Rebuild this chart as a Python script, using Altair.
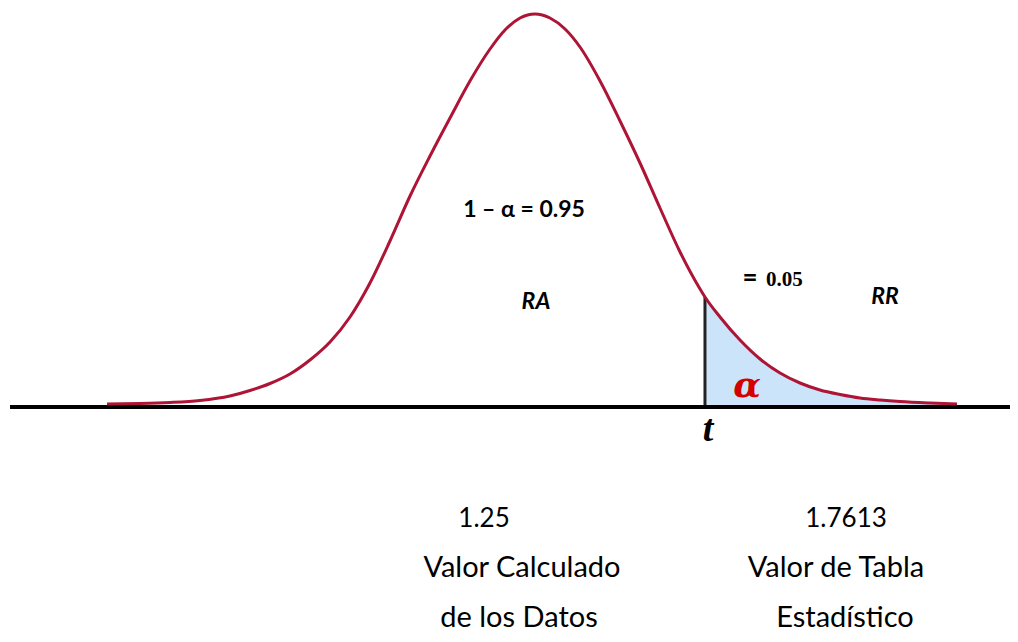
import altair as alt
import pandas as pd

# Curve (x in t units, y in density units)
curve_x = [-4.435, -4.093, -3.782, -3.472, -3.161, -2.953, -2.746, -2.539, -2.332, -2.124,
           -1.917, -1.710, -1.503, -1.295, -1.088, -0.881, -0.674, -0.466, -0.311, -0.155,
           0.0,
           0.155, 0.311, 0.466, 0.674, 0.881, 1.088, 1.295, 1.503, 1.710, 1.7613,
           1.917, 2.124, 2.332, 2.539, 2.746, 2.953, 3.161, 3.368, 3.575, 3.782, 4.093, 4.373]
curve_y = [0.003, 0.0035, 0.0045, 0.0065, 0.011, 0.0165, 0.0235, 0.033, 0.047, 0.065,
           0.090, 0.124, 0.166, 0.211, 0.251, 0.289, 0.326, 0.358, 0.377, 0.389,
           0.393,
           0.389, 0.378, 0.360, 0.326, 0.286, 0.244, 0.199, 0.155, 0.118, 0.110,
           0.090, 0.067, 0.048, 0.034, 0.024, 0.017, 0.0125, 0.009, 0.007, 0.0055, 0.004, 0.003]

t_crit = 1.7613
t_height = 0.110

X_DOMAIN = [-5.461, 4.922]
Y_DOMAIN = [-0.227, 0.399]
baseline_start = -5.44

curve = pd.DataFrame({"x": curve_x, "y": curve_y})
tail = curve[curve["x"] >= t_crit].reset_index(drop=True)

xs = alt.Scale(domain=X_DOMAIN, nice=False, zero=False)
ys = alt.Scale(domain=Y_DOMAIN, nice=False, zero=False)
X = lambda f="x": alt.X(f"{f}:Q", scale=xs, axis=None)
Y = lambda f="y": alt.Y(f"{f}:Q", scale=ys, axis=None)

area = alt.Chart(tail).mark_area(color="#CCE4FA", interpolate="monotone").encode(
    x=X(), y=Y(), y2=alt.datum(0))

vline = alt.Chart(pd.DataFrame({"x": [t_crit], "y": [0.0], "y2": [t_height]})).mark_rule(
    color="#222222", strokeWidth=3).encode(x=X(), y=Y(), y2="y2:Q")

base = alt.Chart(pd.DataFrame({"x": [baseline_start], "x2": [X_DOMAIN[1]], "y": [0.0]})).mark_rule(
    color="#000000", strokeWidth=4).encode(x=X(), x2="x2:Q", y=Y())

line = alt.Chart(curve).mark_line(color="#AD1436", strokeWidth=3, interpolate="monotone").encode(
    x=X(), y=Y())

def texts(labels, xs_, ys_, **kw):
    df = pd.DataFrame({"x": xs_, "y": ys_, "label": labels})
    return alt.Chart(df).mark_text(**kw).encode(x=X(), y=Y(), text="label:N")

t_main = texts(["1 – α = 0.95"], [-0.114], [0.190],
               font="Lato", fontSize=23, fontWeight="bold", color="#000000", baseline="alphabetic")
t_rr = texts(["RA", "RR"], [0.01, 3.627], [0.098, 0.103],
             font="Lato", fontSize=23, fontWeight="bold", fontStyle="italic", color="#000000",
             baseline="alphabetic")
t_eq = texts(["="], [2.228], [0.129], font="Lato", fontSize=26, fontWeight="bold",
             color="#000000", baseline="middle")
t_005 = texts(["0.05"], [2.394], [0.121], font="Liberation Serif", fontSize=21,
              fontWeight="bold", color="#000000", align="left", baseline="alphabetic")
t_alpha = texts(["α"], [2.197], [0.021], font="DejaVu Serif", fontSize=36,
                fontWeight="bold", fontStyle="italic", color="#D40000", baseline="middle")
t_t = texts(["t"], [1.793], [-0.034], font="Liberation Serif", fontSize=38,
            fontWeight="bold", fontStyle="italic", color="#000000", baseline="alphabetic")

num_labels = ["1.25", "1.7613"]
num_x = [-0.528, 3.223]
num_y = [-0.120, -0.120]
t_nums = texts(num_labels, num_x, num_y, font="Lato", fontSize=26,
               color="#000000", baseline="alphabetic")

word_labels = ["Valor Calculado", "de los Datos", "Valor de Tabla", "Estadístico"]
word_x = [-0.135, -0.166, 3.119, 3.212]
word_y = [-0.170, -0.220, -0.170, -0.220]
t_words = texts(word_labels, word_x, word_y, font="Lato", fontSize=29,
                color="#000000", baseline="alphabetic")

chart = alt.layer(area, vline, base, line, t_main, t_rr, t_eq, t_005, t_alpha, t_t,
                  t_nums, t_words).properties(
    width=1002, height=626, padding=0, autosize=alt.AutoSizeParams(type="none"),
    background="white"
).configure_view(stroke=None)

chart.save("out.html", embed_options={"renderer": "svg", "actions": False})
